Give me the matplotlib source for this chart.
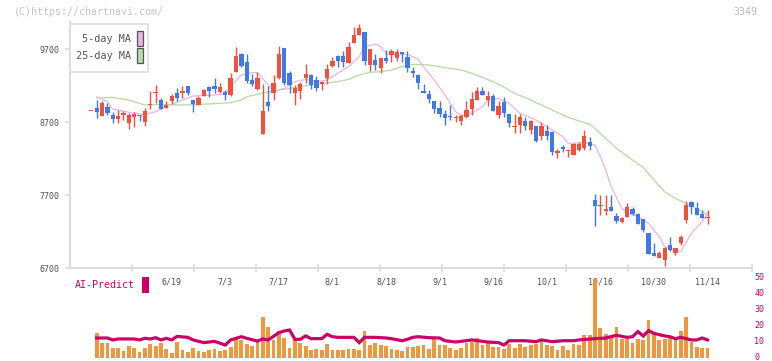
import matplotlib
matplotlib.use("Agg")
import matplotlib.pyplot as plt
from matplotlib.patches import Rectangle
from matplotlib.transforms import blended_transform_factory, ScaledTranslation
import numpy as np

W, H = 772, 361

# daily candles, index 0 = first candle on the chart
opens = [8848, 8892, 8786, 8901, 8796, 8737, 8800, 8690, 8773, 8792,
         8704, 8933, 9093, 9001, 8896, 8992, 9097, 9097, 9190, 9001,
         8937, 9060, 9175, 9193, 9111, 9111, 9074, 9389, 9632, 9522,
         9275, 9152, 8536, 8974, 9102, 9302, 9714, 9376, 9102, 9129,
         9302, 9339, 9280, 9225, 9307, 9467, 9604, 9604, 9513, 9787,
         9887, 9938, 9481, 9553, 9444, 9581, 9618, 9572, 9660, 9590,
         9403, 9339, 9129, 9083, 8988, 8887, 8809, 8787, 8759, 8718,
         8764, 8873, 9001, 9129, 9001, 9056, 8796, 8979, 8805, 8627,
         8659, 8718, 8590, 8649, 8508, 8576, 8567, 8270, 8361, 8306,
         8247, 8316, 8339, 8430, 7631, 7545, 7486, 7540, 7417, 7335,
         7403, 7504, 7435, 7371, 7184, 6910, 6842, 6810, 7015, 6910,
         7038, 7357, 7604, 7526, 7440, 7385]
highs = [8852, 9001, 8992, 8960, 8833, 8860, 8851, 8827, 8837, 8792,
         8887, 9125, 9207, 9029, 8992, 9083, 9170, 9193, 9193, 9001,
         9056, 9152, 9193, 9307, 9238, 9138, 9375, 9732, 9641, 9632,
         9353, 9389, 9220, 9193, 9344, 9741, 9718, 9394, 9207, 9252,
         9495, 9362, 9326, 9257, 9495, 9595, 9618, 9673, 9796, 10005,
         10042, 9938, 9700, 9631, 9581, 9686, 9695, 9695, 9663, 9677,
         9458, 9353, 9220, 9138, 8988, 8988, 8864, 8933, 8796, 8805,
         8988, 9115, 9184, 9184, 9124, 9083, 8988, 9047, 8805, 8810,
         8810, 8764, 8730, 8649, 8704, 8658, 8567, 8335, 8389, 8315,
         8410, 8420, 8590, 8498, 7709, 7700, 7700, 7700, 7449, 7403,
         7595, 7540, 7449, 7371, 7184, 7038, 6938, 6992, 7129, 6979,
         7152, 7618, 7618, 7609, 7494, 7494]
lows = [8848, 8751, 8782, 8796, 8682, 8690, 8727, 8608, 8636, 8718,
        8645, 8878, 8965, 8874, 8887, 8947, 8988, 9025, 9070, 8841,
        8937, 9060, 9047, 9093, 9093, 9001, 9060, 9389, 9458, 9230,
        9193, 9138, 8536, 8855, 9001, 9284, 9207, 9092, 8933, 9015,
        9239, 9147, 9124, 9143, 9220, 9458, 9458, 9458, 9504, 9787,
        9887, 9481, 9399, 9408, 9371, 9504, 9526, 9540, 9526, 9385,
        9312, 9147, 9092, 8965, 8819, 8773, 8658, 8727, 8704, 8658,
        8750, 8796, 9001, 9070, 8919, 8855, 8750, 8773, 8636, 8545,
        8545, 8590, 8540, 8420, 8453, 8453, 8247, 8206, 8293, 8220,
        8247, 8300, 8316, 8316, 7280, 7426, 7426, 7486, 7321, 7321,
        7403, 7426, 7303, 7198, 6892, 6869, 6842, 6732, 6938, 6878,
        7010, 7321, 7440, 7426, 7389, 7303]
closes = [8852, 8833, 8960, 8819, 8745, 8782, 8823, 8796, 8810, 8780,
          8851, 8947, 9111, 8882, 8937, 9056, 9029, 9129, 9097, 8942,
          9029, 9138, 9129, 9152, 9179, 9074, 9307, 9604, 9467, 9266,
          9220, 9307, 8855, 8919, 9234, 9626, 9230, 9207, 9161, 9216,
          9353, 9207, 9166, 9243, 9426, 9535, 9535, 9526, 9723, 9897,
          9983, 9540, 9700, 9481, 9581, 9540, 9673, 9655, 9632, 9444,
          9371, 9230, 9102, 9015, 8883, 8805, 8759, 8773, 8773, 8782,
          8864, 9010, 9129, 9070, 9056, 8855, 8919, 8819, 8682, 8649,
          8770, 8645, 8718, 8440, 8649, 8508, 8293, 8306, 8325, 8315,
          8398, 8393, 8508, 8375, 7549, 7562, 7513, 7486, 7349, 7389,
          7540, 7440, 7303, 7221, 6892, 6869, 6910, 6969, 6947, 6979,
          7129, 7562, 7540, 7426, 7389, 7395]

# moving averages (candle index, price)
ma5_idx = [1, 3, 4, 7, 10, 12, 14, 17, 19, 23, 25, 26, 28, 30, 31, 33, 34, 36, 38, 40,
           42, 44, 46, 48, 50, 51, 53, 54, 55, 56, 59, 61, 62, 64, 66, 68, 69, 71, 73, 74,
           76, 78, 80, 83, 85, 88, 89, 92, 94, 95, 96, 97, 99, 100, 102, 104, 106, 107, 109, 110,
           112, 114, 115]
ma5 = [9047, 8978, 8878, 8833, 8805, 8841, 8910, 9001, 9056, 9070, 9083, 9184, 9344, 9376, 9375, 9207, 9115, 9161, 9252, 9284,
       9252, 9275, 9367, 9458, 9595, 9732, 9768, 9732, 9641, 9618, 9627, 9559, 9458, 9275, 9070, 8841, 8782, 8819, 8910, 9001,
       9024, 8956, 8819, 8727, 8636, 8499, 8408, 8417, 8385, 8225, 8042, 7814, 7518, 7450, 7403, 7312, 7129, 6992, 6947, 6924,
       7175, 7334, 7450]
ma25_idx = [1, 4, 7, 10, 13, 17, 20, 24, 26, 28, 29, 31, 33, 37, 41, 46, 48, 50, 52, 54,
            56, 58, 60, 63, 66, 69, 71, 73, 76, 79, 82, 86, 89, 92, 93, 95, 98, 101, 103, 105,
            107, 109, 111, 114, 115]
ma25 = [9029, 9038, 9001, 8933, 8940, 8933, 8940, 8956, 8965, 9001, 9047, 9079, 9115, 9161, 9207, 9252, 9284, 9344, 9381, 9389,
        9412, 9458, 9490, 9481, 9444, 9412, 9367, 9312, 9220, 9093, 9001, 8864, 8764, 8690, 8673, 8545, 8340, 8179, 8079, 7906,
        7745, 7654, 7586, 7471, 7426]

# lower panel: volume bars for candles 1..115 and the AI-Predict line
vol = [15.8, 9.2, 9.6, 6.3, 6.3, 4.6, 7.5, 6.3, 4.0, 6.3,
       8.8, 7.5, 9.4, 5.6, 3.1, 10.0, 5.0, 3.8, 6.3, 4.4,
       4.0, 5.2, 5.6, 4.6, 5.0, 6.9, 11.7, 11.3, 8.8, 7.5,
       10.2, 25.8, 19.6, 11.3, 17.1, 12.7, 6.3, 11.3, 9.6, 7.5,
       5.0, 5.6, 5.0, 8.8, 5.0, 5.0, 5.0, 5.6, 5.6, 5.0,
       17.0, 8.1, 9.6, 8.1, 7.5, 5.6, 5.0, 4.6, 6.6, 6.6,
       7.5, 8.1, 5.6, 11.7, 8.1, 8.1, 6.5, 5.0, 6.3, 9.6,
       10.2, 12.5, 8.1, 9.6, 6.6, 6.6, 5.6, 8.8, 6.3, 8.8,
       6.6, 8.1, 8.8, 11.7, 8.1, 7.5, 5.0, 7.5, 5.0, 8.8,
       8.1, 14.2, 14.2, 49.2, 18.5, 15.0, 12.9, 19.2, 12.1, 12.1,
       9.6, 11.9, 11.3, 23.8, 15.4, 11.3, 12.1, 12.7, 12.1, 17.1,
       25.8, 10.2, 6.6, 6.3, 6.3]
ai_idx = [1, 3, 4, 5, 8, 9, 10, 11, 12, 13, 14, 15, 16, 18, 19, 21, 23, 25, 26, 28,
          29, 31, 32, 33, 35, 36, 37, 38, 39, 40, 41, 43, 44, 45, 46, 49, 50, 51, 53, 55,
          56, 58, 59, 60, 61, 63, 65, 66, 68, 70, 71, 73, 74, 76, 77, 78, 81, 83, 84, 86,
          88, 90, 91, 94, 96, 98, 100, 101, 102, 103, 104, 105, 107, 108, 109, 110, 112, 113, 114, 115]
ai = [12.5, 12.5, 11.3, 11.9, 11.9, 11.3, 12.3, 11.9, 12.7, 11.3, 12.3, 11.3, 13.5, 12.9, 11.3, 9.6, 10.4, 8.1, 11.3, 13.3,
      12.3, 10.6, 11.9, 11.3, 15.8, 16.9, 17.5, 11.7, 11.7, 13.8, 12.1, 12.1, 14.8, 13.3, 12.9, 12.9, 9.6, 12.9, 12.9, 12.5,
      12.1, 10.8, 11.7, 12.9, 13.3, 12.7, 12.5, 10.8, 10.0, 10.8, 11.3, 10.4, 10.0, 9.6, 8.1, 10.8, 10.8, 10.2, 11.3, 10.2,
      10.8, 10.8, 11.3, 12.1, 12.5, 14.2, 12.9, 13.3, 16.5, 13.8, 17.1, 15.4, 13.8, 13.3, 12.1, 12.9, 11.3, 11.3, 12.5, 11.3]

date_labels = ["6/19", "7/3", "7/17", "8/1", "8/18", "9/1", "9/16", "10/1", "10/16", "10/30", "11/14"]
date_idx = [15, 25, 35, 45, 55, 65, 75, 85, 95, 105, 115]
price_ticks = [6700, 7700, 8700, 9700]
vol_ticks = [0, 10, 20, 30, 40, 50]

UP = "#f0503c"
DOWN = "#3f78e8"
MONO = "DejaVu Sans Mono"
GRID = "#dddddd"
CRIMSON = "#cc0066"

fig = plt.figure(figsize=(W / 100, H / 100), dpi=100)


def px_axes(x0, y0, x1, y1):
    # axes placed by pixel box (top-left origin like the screenshot)
    return fig.add_axes([x0 / W, 1 - y1 / H, (x1 - x0) / W, (y1 - y0) / H])


xlim = (-3.98, 123.3)

# ---- price panel ----
ax = px_axes(70, 22, 752, 268)
ax.patch.set_visible(False)
ax.set_xlim(*xlim)
ax.set_ylim(6700, 10070)

x = np.arange(len(opens))
o = np.array(opens)
c = np.array(closes)
colors = [UP if cc >= oo else DOWN for oo, cc in zip(o, c)]
ax.vlines(x, lows, highs, colors=colors, linewidth=1, clip_on=False, zorder=3)
body_lo = np.minimum(o, c)
body_h = np.maximum(np.abs(c - o), 14)
ax.bar(x, body_h, bottom=body_lo, width=0.8, color=colors, linewidth=0, clip_on=False, zorder=4)

ax.plot(ma25_idx, ma25, color="#b2dca2", linewidth=0.9, zorder=2)
ax.plot(ma5_idx, ma5, color="#e8b4ea", linewidth=0.9, zorder=2)

for s in ["top", "right"]:
    ax.spines[s].set_visible(False)
for s in ["left", "bottom"]:
    ax.spines[s].set_color(GRID)
    ax.spines[s].set_linewidth(1.5)

ax.set_yticks(price_ticks)
ax.set_yticklabels([str(p) for p in price_ticks])
ax.tick_params(axis="y", length=3.6, width=1.2, color=GRID, pad=4.3,
               labelsize=6, labelcolor="#555555")
for t in ax.get_yticklabels():
    t.set_family(MONO)

ax.set_xticks(np.linspace(xlim[0], xlim[1], 12)[1:])
ax.set_xticklabels([])
ax.tick_params(axis="x", direction="inout", length=6, width=1.2, color=GRID)

trans = blended_transform_factory(ax.transData, ax.transAxes)
for lab, i in zip(date_labels, date_idx):
    ax.text(i, -0.057, lab, transform=trans, ha="center", va="center",
            fontsize=6, family=MONO, color="#555555", clip_on=False)

# ---- volume / AI panel (transparent, drawn over the date labels) ----
ax2 = px_axes(70, 278, 752, 358)
ax2.patch.set_visible(False)
ax2.set_xlim(*xlim)
ax2.set_ylim(0, 50)
ax2.bar(np.arange(1, len(vol) + 1), vol, width=0.7, color="#f0963c", linewidth=0, zorder=2)
ax2.plot(ai_idx, ai, color=CRIMSON, linewidth=2.3, zorder=3, solid_joinstyle="miter")
for s in ax2.spines.values():
    s.set_visible(False)
ax2.set_xticks([])
ax2.yaxis.tick_right()
ax2.set_yticks(vol_ticks)
ax2.set_yticklabels([str(v) for v in vol_ticks])
ax2.tick_params(axis="y", length=0, pad=1.5, labelsize=6, labelcolor=CRIMSON)
nudge = ScaledTranslation(0, 1.5 / 100, fig.dpi_scale_trans)
for t in ax2.get_yticklabels():
    t.set_family(MONO)
    t.set_transform(t.get_transform() + nudge)

# legend box
fig.patches.append(Rectangle((70 / W, 1 - 72 / H), 78 / W, 48 / H, transform=fig.transFigure,
                             facecolor="white", edgecolor=GRID, linewidth=1.2, zorder=5))
fig.text(131 / W, 1 - 39 / H, "5-day MA", ha="right", va="center", fontsize=7.3,
         family=MONO, color="#555555", zorder=6)
fig.text(131 / W, 1 - 56 / H, "25-day MA", ha="right", va="center", fontsize=7.3,
         family=MONO, color="#555555", zorder=6)
fig.patches.append(Rectangle((136.5 / W, 1 - 46 / H), 6 / W, 15 / H, transform=fig.transFigure,
                             facecolor="#e8b4ea", edgecolor="#555555", linewidth=0.9, zorder=6))
fig.patches.append(Rectangle((136.5 / W, 1 - 62.5 / H), 6 / W, 14.5 / H, transform=fig.transFigure,
                             facecolor="#b8dcaa", edgecolor="#555555", linewidth=0.9, zorder=6))

# watermark and code
fig.text(14 / W, 1 - 12 / H, "(C)https://chartnavi.com/", ha="left", va="center",
         fontsize=7.2, family=MONO, color="#c4c4c4")
fig.text(757 / W, 1 - 12 / H, "3349", ha="right", va="center",
         fontsize=7.2, family=MONO, color="#bbbbbb")

fig.text(75 / W, 1 - 285 / H, "AI-Predict", ha="left", va="center",
         fontsize=7.2, family=MONO, color=CRIMSON)
fig.patches.append(Rectangle((142 / W, 1 - 293 / H), 7 / W, 16 / H, transform=fig.transFigure,
                             facecolor=CRIMSON, edgecolor="none"))

fig.savefig("out.png", dpi=100)
